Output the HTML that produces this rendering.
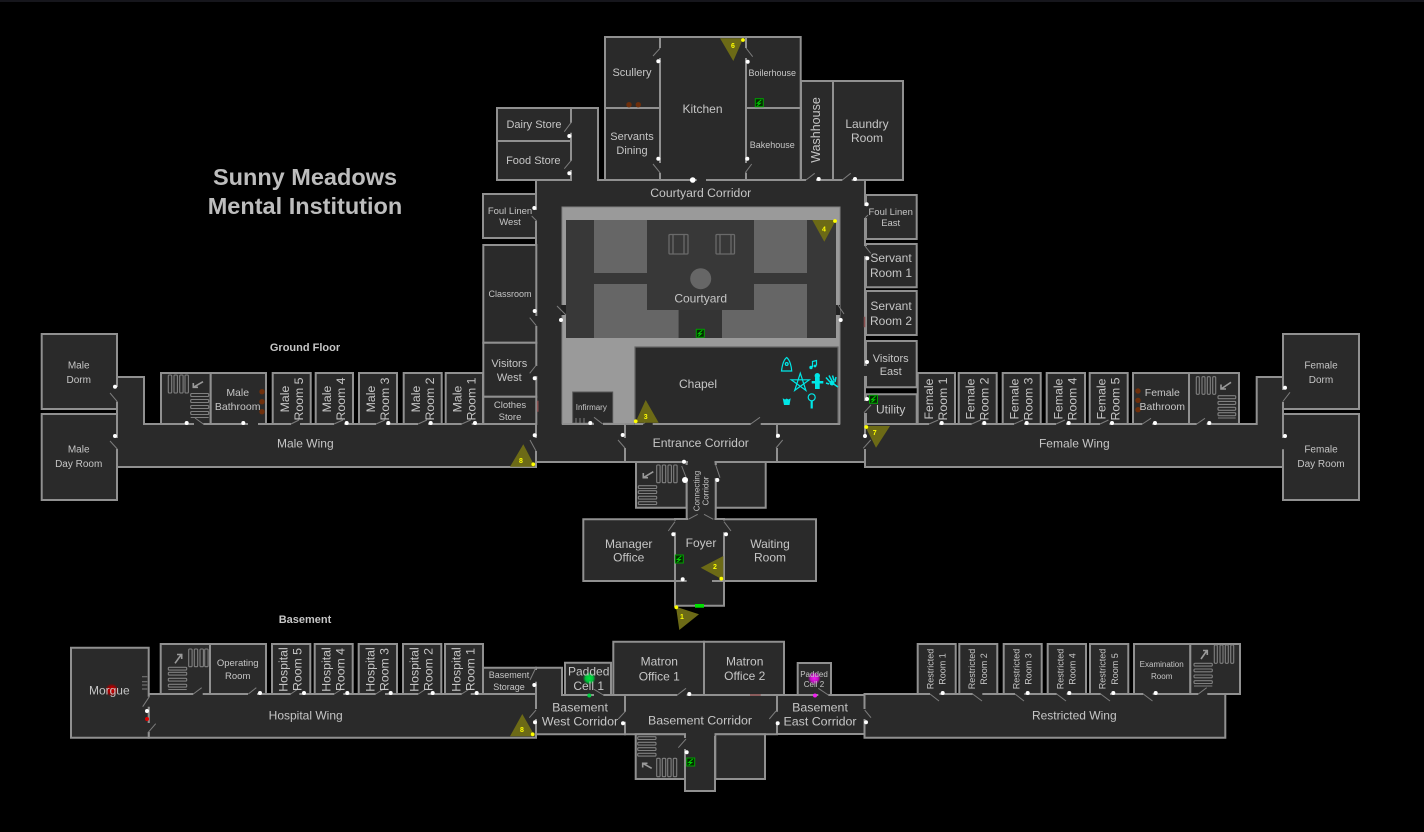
<!DOCTYPE html>
<html><head><meta charset="utf-8"><title>Sunny Meadows</title>
<style>
html,body{margin:0;padding:0;background:#000;width:1424px;height:832px;overflow:hidden}
svg{display:block}
text{font-family:"Liberation Sans",sans-serif;fill:#c6c6c6;text-anchor:middle}
.r path{fill:#2a2a2a;stroke:#909090;stroke-width:2}
.t{fill:none;stroke:#808080;stroke-width:1.1}
.g{fill:none;stroke:#2a2a2a;stroke-width:3.4}
.s{fill:none;stroke:#7c7c7c;stroke-width:1}
.d{fill:none;stroke:#fff;stroke-width:4;stroke-linecap:round}
.w{fill:none;stroke:#909090;stroke-width:2}
.c polygon{fill:#6c6a16}
.y{fill:#ff0}
.n{fill:#ff0;font-size:7px;font-weight:bold}
.b{fill:#6e2e0a}
.cy{fill:none;stroke:#00e6e6;stroke-width:1.2}
.cf{fill:#00e6e6}
</style></head><body>
<svg width="1424" height="832" viewBox="0 0 1424 832" xmlns="http://www.w3.org/2000/svg">
<defs>
<radialGradient id="gr"><stop offset="0" stop-color="#d00000"/><stop offset=".6" stop-color="#a00000"/><stop offset="1" stop-color="#a00000" stop-opacity="0"/></radialGradient>
<radialGradient id="gg"><stop offset="0" stop-color="#00e040"/><stop offset=".6" stop-color="#00c038"/><stop offset="1" stop-color="#00a030" stop-opacity="0"/></radialGradient>
<radialGradient id="gm"><stop offset="0" stop-color="#f020f0"/><stop offset=".6" stop-color="#c010c0"/><stop offset="1" stop-color="#a010a0" stop-opacity="0"/></radialGradient>
<g id="ex"><rect x="-4" y="-4" width="8" height="8" stroke="#00a000" stroke-width="1" style="fill:#032a00"/><path d="M2-3-2 .5H1L-2 3" fill="none" stroke="#00d000" stroke-width="1"/></g>
</defs>
<rect width="1424" height="832" fill="#000"/>
<rect width="1424" height="2" fill="#16161c"/>

<g class="r">
<path d="M117 377H144V424H536V467H117Z"/>
<path d="M865 424H1256.7V377H1283V467H865Z"/>
<path d="M571 108H598V180H571Z"/>
<path d="M536 180H865V462H536Z"/>
<path d="M605 37H660V108H605Z"/><path d="M605 108H660V180H605Z"/>
<path d="M660 37H746V180H660Z"/>
<path d="M746 37H800.7V108H746Z"/><path d="M746 108H800.7V180H746Z"/>
<path d="M801 81H833V180H801Z"/><path d="M833 81H903V180H833Z"/>
<path d="M497 108H571V141H497Z"/><path d="M497 141H571V180H497Z"/>
<path d="M483 194H536V238H483Z"/>
<path d="M483.3 245H536.3V342.7H483.3Z"/>
<path d="M483.3 342.7H536.3V396.7H483.3Z"/>
<path d="M483.3 396.7H536.3V424H483.3Z"/>
<path d="M866 195H916.7V239H866Z"/>
<path d="M866 244H916.7V287.3H866Z"/>
<path d="M866 291H916.7V335H866Z"/>
<path d="M866 341H916.7V387.3H866Z"/>
<path d="M866 394.3H916.7V424H866Z"/>
<path d="M41.7 334H117V409H41.7Z"/><path d="M41.7 414H117V500H41.7Z"/>
<path d="M161 373H210.7V424H161Z"/><path d="M210.7 373H266V424H210.7Z"/>
<path d="M272.7 373H310.7V424H272.7Z"/><path d="M315.7 373H353V424H315.7Z"/>
<path d="M359 373H397V424H359Z"/><path d="M403.7 373H441.7V424H403.7Z"/>
<path d="M445.7 373H483V424H445.7Z"/>
<path d="M917.7 373H955V424H917.7Z"/><path d="M958.7 373H996.7V424H958.7Z"/>
<path d="M1002.7 373H1040.7V424H1002.7Z"/><path d="M1046.7 373H1085V424H1046.7Z"/>
<path d="M1089.7 373H1127.7V424H1089.7Z"/><path d="M1133 373H1189V424H1133Z"/>
<path d="M1189 373H1239V424H1189Z"/>
<path d="M1283 334H1359V409H1283Z"/><path d="M1283 414H1359V500H1283Z"/>
<path d="M625 424H777V462H625Z"/>
<path d="M636 462H686.7V507.7H636Z"/><path d="M715.7 462H765.7V507.7H715.7Z"/>
<path d="M686.7 462H715.7V519H686.7Z"/>
<path d="M675 519H724V605.7H675Z"/>
<path d="M583.3 519.3H675V581H583.3Z"/><path d="M724 519.3H816V581H724Z"/>
<path d="M148.7 694H536V737.7H148.7Z"/>
<path d="M71 647.7H148.7V737.7H71Z"/>
<path d="M160.7 644H210V694H160.7Z"/><path d="M210 644H266V694H210Z"/>
<path d="M272 644H310.3V694H272Z"/><path d="M314.7 644H352.7V694H314.7Z"/>
<path d="M358.7 644H397V694H358.7Z"/><path d="M403 644H441.3V694H403Z"/>
<path d="M445 644H483V694H445Z"/>
<path d="M536 667.7H562V695H625V734.3H536Z"/>
<path d="M483 667.7H536V694H483Z"/>
<path d="M565 662.7H611V695H565Z"/>
<path d="M613.3 641.7H704V695H613.3Z"/><path d="M704 641.7H784V695H704Z"/>
<path d="M625 695H777V734.3H715V791H685V734.3H625Z"/>
<path d="M635.7 734.3H685V779H635.7Z"/><path d="M715.3 734.3H765V779H715.3Z"/>
<path d="M797.7 663H831V695H797.7Z"/>
<path d="M777 695H864.5V734H777Z"/>
<path d="M864.5 694H1225.3V737.7H864.5Z"/>
<path d="M917.7 644H955.7V694H917.7Z"/><path d="M959.3 644H997.3V694H959.3Z"/>
<path d="M1003.7 644H1041.7V694H1003.7Z"/><path d="M1047.7 644H1086V694H1047.7Z"/>
<path d="M1090 644H1128.3V694H1090Z"/><path d="M1134 644H1190.3V694H1134Z"/>
<path d="M1190.3 644H1240V694H1190.3Z"/>
</g>

<rect x="562" y="207" width="278" height="217" fill="#9a9a9a" stroke="#808080" stroke-width="1"/>
<rect x="566" y="220" width="270" height="118" fill="#383838"/>
<rect x="594" y="220" width="53" height="53" fill="#666"/>
<rect x="754" y="220" width="53" height="53" fill="#666"/>
<path d="M594 284H647V310H678.7V338H594Z" fill="#666"/>
<path d="M754 284H807V338H722V310H754Z" fill="#666"/>
<rect x="678.7" y="310" width="43.3" height="28" fill="#343434"/>
<circle cx="700.7" cy="278.7" r="10.5" fill="#666"/>
<g fill="none" stroke="#6a6a6a" stroke-width="1.3"><rect x="669" y="234.5" width="19" height="19.5" rx="1"/><path d="M673 234.5V254M684 234.5V254"/><rect x="716" y="234.5" width="18.5" height="19.5" rx="1"/><path d="M720 234.5V254M731 234.5V254"/></g>
<rect x="635" y="347" width="203" height="77" fill="#2a2a2a" stroke="#666" stroke-width="1.2"/>
<rect x="572.7" y="392" width="40" height="31" fill="#2a2a2a" stroke="#555" stroke-width="1"/>
<path d="M562 424H625M777 424H840M635 424H777" class="w"/>
<path d="M576 418V423M580 418V423M584 418V423" class="s"/>
<rect x="561" y="305" width="5" height="10" fill="#222"/><rect x="836" y="305" width="4" height="10" fill="#222"/>

<g class="t">
<rect x="168.3" y="375" width="3.4" height="18" rx="1"/><rect x="174" y="375" width="3.4" height="18" rx="1"/><rect x="179.7" y="375" width="3.4" height="18" rx="1"/><rect x="185" y="375" width="3.4" height="18" rx="1"/>
<rect x="190.7" y="393.5" width="18" height="3" rx="1"/><rect x="190.7" y="399.5" width="18" height="3" rx="1"/><rect x="190.7" y="405.5" width="18" height="3" rx="1"/><rect x="190.7" y="411.5" width="18" height="3" rx="1"/><path d="M190.7 417.5H208.7"/>
<rect x="1196.3" y="376.7" width="3" height="17.6" rx="1"/><rect x="1202" y="376.7" width="3" height="17.6" rx="1"/><rect x="1207.3" y="376.7" width="3" height="17.6" rx="1"/><rect x="1212.7" y="376.7" width="3" height="17.6" rx="1"/>
<rect x="1218" y="395.7" width="17.7" height="3" rx="1"/><rect x="1218" y="401.4" width="17.7" height="3" rx="1"/><rect x="1218" y="407.3" width="17.7" height="3" rx="1"/><rect x="1218" y="412.7" width="17.7" height="3" rx="1"/><path d="M1218 418H1235.7"/>
<rect x="656.7" y="465" width="3.4" height="17.7" rx="1"/><rect x="662.3" y="465" width="3.4" height="17.7" rx="1"/><rect x="668" y="465" width="3.4" height="17.7" rx="1"/><rect x="673.7" y="465" width="3.4" height="17.7" rx="1"/>
<rect x="638.3" y="485.7" width="18.4" height="2.8" rx="1"/><rect x="638.3" y="490.7" width="18.4" height="2.8" rx="1"/><rect x="638.3" y="496.3" width="18.4" height="2.8" rx="1"/><rect x="638.3" y="501.7" width="18.4" height="2.8" rx="1"/>
<rect x="188.7" y="649" width="3.4" height="17.7" rx="1"/><rect x="194.3" y="649" width="3.4" height="17.7" rx="1"/><rect x="200" y="649" width="3.4" height="17.7" rx="1"/><rect x="204.7" y="649" width="3.4" height="17.7" rx="1"/>
<rect x="168.3" y="667.3" width="18.4" height="2.8" rx="1"/><rect x="168.3" y="672.3" width="18.4" height="2.8" rx="1"/><rect x="168.3" y="678.3" width="18.4" height="2.8" rx="1"/><rect x="168.3" y="684.3" width="18.4" height="2.8" rx="1"/><path d="M168.3 689.5H186.7"/>
<rect x="1214.3" y="645" width="3" height="18.3" rx="1"/><rect x="1220" y="645" width="3" height="18.3" rx="1"/><rect x="1225.3" y="645" width="3" height="18.3" rx="1"/><rect x="1230.7" y="645" width="3" height="18.3" rx="1"/>
<rect x="1194" y="663.3" width="18.3" height="2.8" rx="1"/><rect x="1194" y="669" width="18.3" height="2.8" rx="1"/><rect x="1194" y="675" width="18.3" height="2.8" rx="1"/><rect x="1194" y="680.7" width="18.3" height="2.8" rx="1"/><path d="M1194 686H1212.3"/>
<rect x="637.7" y="736.7" width="18.3" height="2.8" rx="1"/><rect x="637.7" y="742.3" width="18.3" height="2.8" rx="1"/><rect x="637.7" y="747.7" width="18.3" height="2.8" rx="1"/><rect x="637.7" y="753.3" width="18.3" height="2.8" rx="1"/>
<rect x="656.7" y="758.3" width="3.4" height="18.4" rx="1"/><rect x="662.3" y="758.3" width="3.4" height="18.4" rx="1"/><rect x="667.7" y="758.3" width="3.4" height="18.4" rx="1"/><rect x="673.3" y="758.3" width="3.4" height="18.4" rx="1"/>
</g>
<g fill="none" stroke="#9a9a9a" stroke-width="1.6">
<path d="M203 381.7 193.3 387.3M193.3 383V387.3H198"/>
<path d="M1231 382.3 1221 389M1221 384.5V389H1226"/>
<path d="M653.3 471.7 643.3 477.7M643.3 473V477.7H648"/>
<path d="M175 663.3 181.7 654M177 654.5H181.7V659"/>
<path d="M1201 659 1207.3 650M1203 650.5H1207.3V655"/>
<path d="M651.7 768.3 642.7 763.3M642.7 767.5V763.3H647.5"/>
</g>

<path class="g" d="M194 424H203.3M248 424H258M291 424H300M334 424H344.3M376 424H386M418 424H428M461.7 424H471.7
M929 424H939M971.7 424H981.7M1014 424H1024M1056 424H1066M1100 424H1109.3M1142.3 424H1152.3M1196.7 424H1206.7
M117 387V401.7M117 438V449M536 438V451M536.3 366V376M536.3 316V326M536.3 210V221M865.5 206V218M865.5 246V256M865.5 366V376M865.5 401V413M865.5 438V449
M1283 390V401.7M1283 438V449.3
M696.7 180H706M806 180H816M842.3 180H851.7M572 180H597
M660 48V58M746 48V58M660 163V172.7M746 163V172.7M571 122.7V132.7M571 160.7V170
M625 438V448M777 438V448M688 462H714.5M686.7 465V478M715.7 465V478M688 519H714.5M675 520.5V532.3M724 520.5V532.3
M193.3 694H202.7M248 694H257M290.7 694H299.3M334.3 694H343.3M375.7 694H385M418.3 694H427.7M461.7 694H470.7
M536 670V681.7M536 709V719M594 695H603.3M677.3 695H686.7M818.3 695H828.3M625 711.7V721.7M777 711.7V721.7M864.5 709V719
M148.7 696.7V706.7M148.7 723V732
M686 734.3H714.5M685 738V749
M930 694H939.3M972.7 694H982.3M1015 694H1024.3M1056.7 694H1066.7M1100.7 694H1110M1143.3 694H1152.7M1198.3 694H1207.3
M643 424H652.7M750.7 424H760.7M594 424H603"/>
<path class="g" d="M675 581H675"/>
<path class="w" d="M675 581H686.7M712 581H724"/>
<path d="M537.7 400.7V411.7M864.5 316.7V327.3" stroke="#8a5050" stroke-width="1.6" fill="none"/>
<path d="M750 695H760.7" stroke="#8a5050" stroke-width="1.6" fill="none"/>

<path class="s" d="M203.3 424 195 418M291 424 299 420M334 424 343 420M376 424 385 420M418 424 427 420M461.7 424 470.7 420
M929 424 938.3 420M971.7 424 980.7 420M1014 424 1023 420M1056 424 1065 420M1100 424 1108.5 420M1142.3 424 1151 418.3M1196.7 424 1205 418.3
M117.3 401.7 110 393M117.3 449 110 441M536 451 530 440M536.3 365 529.7 373.3M536.3 325.7 529.7 317.7M536.7 221 531.7 216
M865 218 868 215M865 246 870.7 253.3M864 412.7 871 405M863.3 448.3 870.7 440M1283.3 401 1290 392.3
M806 180 814.7 173.3M842.3 180 850.7 173.3M660 48.3 653 56M746 48 752.7 56.7M660 172.7 653 164M745.3 172.7 751.7 164M571 122.7 564.3 131.7M571 160.7 564.3 168.7
M566 315 557 306M838 305 844 314M643 424 651.3 417.3M750.7 424 760 417.3M602.7 424 594 417.3
M625 448 618 440M776 448 782.7 440M681.7 466 686.7 479M715.7 465 720 477.7M697.7 514.3 688.3 519.3M704 514.3 713.3 519.3M675 521.7 668.3 531M724 521.7 731 531
M193.3 694 201.7 687.7M248.3 694 256.3 687.7M290.7 694 298 689M334.3 694 342 689M375.7 694 383.5 689M418.3 694 426 689M461.7 694 469.5 689
M535.7 668 530 680M536 710 529.3 717.7M149.3 696.7 142.7 706.7M148.3 732.3 155.7 723.7
M603.3 695 594 689.3M677.3 695 686 688.3M818.3 688.3 828.3 695M625 711.7 618.3 719M776 711 769.3 719M864.7 710 871 717.7M686 739 678.3 747.7
M930 694 939 701M972.7 694 982 701M1015 694 1024 701M1056.7 694 1066 701M1100.7 694 1110 701M1143.3 694 1152.5 701M1198.3 694 1206.7 687.7"/>

<path class="s" d="M142 676.7H147.3M142 681.7H147.3M142 685H147.3M142 689H147.3"/>
<g class="b"><circle cx="629" cy="104.7" r="2.7"/><circle cx="638.3" cy="104.7" r="2.7"/><circle cx="262" cy="391.7" r="2.7"/><circle cx="262" cy="401.7" r="2.7"/><circle cx="262" cy="411.7" r="2.7"/><circle cx="1138" cy="391" r="2.7"/><circle cx="1138" cy="400.3" r="2.7"/><circle cx="1138" cy="409.7" r="2.7"/></g>
<circle cx="111.7" cy="690" r="6.5" fill="url(#gr)"/>
<circle cx="589.3" cy="678.3" r="6.5" fill="url(#gg)"/>
<circle cx="814.3" cy="678.3" r="6.5" fill="url(#gm)"/>
<circle cx="589.3" cy="695.5" r="2" fill="#00d040"/>
<circle cx="815" cy="695.5" r="2" fill="#f020f0"/>
<rect x="695" y="604" width="9" height="3.7" fill="#00e000"/>
<circle cx="147" cy="719" r="2" fill="#e00000"/>

<use href="#ex" x="759.3" y="102.7"/><use href="#ex" x="700.3" y="333.3"/><use href="#ex" x="679.3" y="559"/><use href="#ex" x="873.5" y="399.3"/><use href="#ex" x="690.7" y="762"/>

<path class="d" d="M186.7 423h0M243.3 423h0M346.7 423h0M388.3 423h0M430.7 423h0M475 423h0
M941.7 423h0M984.3 423h0M1026.7 423h0M1068.7 423h0M1112 423h0M1155 423h0M1209.3 423h0
M115 386.7h0M115 436h0M534.7 435.3h0M534.7 378.3h0M534.7 311h0M534.3 208h0M866.7 204.3h0M867.3 258.3h0M867 362h0M867 399h0M865 436h0M1285 387.7h0M1285 436h0
M818.7 179h0M855 179h0M658.3 61.3h0M747.7 61.7h0M658.3 158.7h0M747.3 158.7h0M569.3 136h0M569.3 173.3h0
M561 320h0M840.7 320h0M590.3 423h0M622.7 435h0M778 435.7h0M684 461.7h0M717.3 480h0M673.3 534.3h0M726 534.3h0M682.7 579.3h0
M260 693h0M304 693h0M347.3 693h0M390.7 693h0M432.7 693h0M476.7 693h0M534.3 685h0M535 722.3h0M147 711h0
M689.3 694h0M623 723.3h0M777.7 723.3h0M866 722.3h0M686.7 752.3h0
M942.7 693h0M1027.7 693h0M1069.3 693h0M1113.3 693h0M1155.7 693h0"/>
<circle cx="692.7" cy="180" r="2.8" fill="#fff"/><circle cx="685" cy="480" r="3" fill="#fff"/>

<g class="c">
<polygon points="720,38.3 743.3,38.3 733.3,61"/>
<polygon points="812.3,220 836,220 824.3,241.7"/>
<polygon points="635.3,422.7 658.7,422.7 645.7,400"/>
<polygon points="510,466.7 535,466.7 523.3,444.3"/>
<polygon points="865,426 890,426 876,447.7"/>
<polygon points="723.3,556 723.3,580 700.7,567.7"/>
<polygon points="676,606.7 699,614.3 679.3,630"/>
<polygon points="510,736.3 535,736.3 522.3,714"/>
</g>
<g class="y">
<circle cx="743" cy="40" r="1.9"/><circle cx="835" cy="221" r="1.9"/><circle cx="635.7" cy="421.3" r="1.9"/><circle cx="533.3" cy="464.3" r="1.9"/><circle cx="866.3" cy="427" r="1.9"/><circle cx="721.3" cy="578.7" r="1.9"/><circle cx="676.3" cy="607.3" r="1.9"/><circle cx="532.7" cy="734.3" r="1.9"/>
</g>
<text class="n" x="733" y="48">6</text><text class="n" x="824" y="231.5">4</text><text class="n" x="645.7" y="419">3</text><text class="n" x="521" y="463">8</text><text class="n" x="874.7" y="435">7</text><text class="n" x="715" y="569">2</text><text class="n" x="682" y="619">1</text><text class="n" x="522" y="732">8</text>

<path class="cy" d="M786.7 357.5C783 360 782 367 781.5 371H791.7C791.5 367 790 360 786.7 357.5Z"/><circle class="cy" cx="786.7" cy="364" r="1.4"/>
<path d="M812.5 367V361.5L816.5 360.5V365.5" fill="none" stroke="#00e6e6" stroke-width="1.2"/><circle class="cf" cx="811" cy="367.5" r="1.7"/><circle class="cf" cx="815" cy="366" r="1.4"/>
<path class="cy" d="M800.3 373.2 805.9 390.4 791.3 379.8H809.3L794.7 390.4Z" stroke-width="1.4"/>
<circle class="cf" cx="817.3" cy="375.7" r="2.7"/><path class="cf" d="M815 377.5H819.7V381H823.3V383.5H819.7V389H815V383.5H811.7V381H815Z"/>
<path d="M833 383.5 838 387M830 382 826 377.5M832 381 829 375.5M834 380.5 832.5 375.5M835 382 836 377M829 384 826 383" stroke="#00e6e6" stroke-width="1.5" fill="none"/><circle class="cf" cx="832" cy="383" r="2.5"/>
<polygon class="cf" points="782.7,398.3 785,399.5 786.7,398.5 788.5,399.5 790.7,398.3 789.5,405 784,405"/>
<circle class="cy" cx="811.7" cy="397.3" r="3.5" stroke-width="1.3"/><path d="M811.7 401V408.5" stroke="#00e6e6" stroke-width="2.2"/>

<text x="305" y="185" font-size="23.5" font-weight="bold" style="fill:#bdbdbd">Sunny Meadows</text>
<text x="305" y="214" font-size="23.5" font-weight="bold" style="fill:#bdbdbd">Mental Institution</text>
<text x="305" y="351" font-size="11" font-weight="bold">Ground Floor</text>
<text x="305" y="623" font-size="11" font-weight="bold">Basement</text>

<g font-size="11">
<text x="632" y="76">Scullery</text>
<text x="632" y="140">Servants</text><text x="632" y="154">Dining</text>
<text x="534" y="128">Dairy Store</text><text x="533.3" y="164">Food Store</text>
<text x="509.3" y="367">Visitors</text><text x="509.3" y="381">West</text>
<text x="890.7" y="362">Visitors</text><text x="890.7" y="375">East</text>
</g>
<g font-size="12">
<text x="702.5" y="113">Kitchen</text>
<text x="867" y="128">Laundry</text><text x="867" y="142">Room</text>
<text x="891" y="262">Servant</text><text x="891" y="277">Room 1</text>
<text x="891" y="310">Servant</text><text x="891" y="325">Room 2</text>
<text x="890.7" y="413.5">Utility</text>
<text x="700.7" y="302.5">Courtyard</text>
<text x="698" y="388">Chapel</text>
<text x="305.3" y="447.5">Male Wing</text>
<text x="1074.3" y="447.5">Female Wing</text>
<text x="628.7" y="548">Manager</text><text x="628.7" y="561.5">Office</text>
<text x="770" y="548">Waiting</text><text x="770" y="561.5">Room</text>
<text x="701" y="547">Foyer</text>
<text x="109.3" y="694.5">Morgue</text>
<text x="588.7" y="675.5">Padded</text><text x="588.7" y="690">Cell 1</text>
<text x="659.3" y="665.5">Matron</text><text x="659.3" y="680.5">Office 1</text>
<text x="744.7" y="665.5">Matron</text><text x="744.7" y="680">Office 2</text>
<text x="305.7" y="719.5">Hospital Wing</text>
<text x="1074.3" y="719.5">Restricted Wing</text>
</g>
<g font-size="12.2">
<text x="700.7" y="197">Courtyard Corridor</text>
<text x="700.7" y="447">Entrance Corridor</text>
</g>
<text x="700" y="724.5" font-size="12.4">Basement Corridor</text>
<g font-size="12.4">
<text x="580" y="711.5">Basement</text><text x="580" y="725.5">West Corridor</text>
<text x="820" y="711.5">Basement</text><text x="820" y="725.5">East Corridor</text>
</g>
<g font-size="9">
<text x="772.3" y="76">Boilerhouse</text>
<text x="772.3" y="148">Bakehouse</text>
<text x="510" y="297">Classroom</text>
<text x="509" y="678">Basement</text><text x="509" y="690">Storage</text>
</g>
<g font-size="9.5">
<text x="510" y="214">Foul Linen</text><text x="510" y="225">West</text>
<text x="890.7" y="215">Foul Linen</text><text x="890.7" y="226">East</text>
<text x="510" y="408">Clothes</text><text x="510" y="420">Store</text>
<text x="237.7" y="666">Operating</text><text x="237.7" y="679">Room</text>
</g>
<g font-size="10">
<text x="78.7" y="368.5">Male</text><text x="78.7" y="383">Dorm</text>
<text x="78.7" y="452.5">Male</text><text x="78.7" y="467">Day Room</text>
<text x="1321" y="368.5">Female</text><text x="1321" y="383">Dorm</text>
<text x="1321" y="452.5">Female</text><text x="1321" y="467">Day Room</text>
</g>
<g font-size="10.5">
<text x="237.7" y="396">Male</text><text x="237.7" y="410">Bathroom</text>
<text x="1162.3" y="396">Female</text><text x="1162.3" y="410">Bathroom</text>
</g>
<g font-size="8">
<text x="591.3" y="410">Infirmary</text>
<text x="1161.7" y="667">Examination</text><text x="1161.7" y="679">Room</text>
<text x="814" y="677">Padded</text><text x="814" y="687">Cell 2</text>
<text transform="translate(699.3 491) rotate(-90)">Connecting</text>
<text transform="translate(708.3 491) rotate(-90)">Corridor</text>
</g>
<text transform="translate(820 130) rotate(-90)" font-size="12.5">Washhouse</text>

<g font-size="12.3">
<text transform="translate(289 399) rotate(-90)">Male</text><text transform="translate(303 399) rotate(-90)">Room 5</text>
<text transform="translate(331 399) rotate(-90)">Male</text><text transform="translate(345 399) rotate(-90)">Room 4</text>
<text transform="translate(375 399) rotate(-90)">Male</text><text transform="translate(389 399) rotate(-90)">Room 3</text>
<text transform="translate(420 399) rotate(-90)">Male</text><text transform="translate(434 399) rotate(-90)">Room 2</text>
<text transform="translate(461.5 399) rotate(-90)">Male</text><text transform="translate(475.5 399) rotate(-90)">Room 1</text>
<text transform="translate(933 399) rotate(-90)">Female</text><text transform="translate(947 399) rotate(-90)">Room 1</text>
<text transform="translate(974.5 399) rotate(-90)">Female</text><text transform="translate(988.5 399) rotate(-90)">Room 2</text>
<text transform="translate(1018.5 399) rotate(-90)">Female</text><text transform="translate(1032.5 399) rotate(-90)">Room 3</text>
<text transform="translate(1062.5 399) rotate(-90)">Female</text><text transform="translate(1076.5 399) rotate(-90)">Room 4</text>
<text transform="translate(1105.5 399) rotate(-90)">Female</text><text transform="translate(1119.5 399) rotate(-90)">Room 5</text>
<text transform="translate(287.7 669.5) rotate(-90)">Hospital</text><text transform="translate(301.7 669.5) rotate(-90)">Room 5</text>
<text transform="translate(330.5 669.5) rotate(-90)">Hospital</text><text transform="translate(344.5 669.5) rotate(-90)">Room 4</text>
<text transform="translate(374.5 669.5) rotate(-90)">Hospital</text><text transform="translate(388.5 669.5) rotate(-90)">Room 3</text>
<text transform="translate(418.7 669.5) rotate(-90)">Hospital</text><text transform="translate(432.7 669.5) rotate(-90)">Room 2</text>
<text transform="translate(460.7 669.5) rotate(-90)">Hospital</text><text transform="translate(474.7 669.5) rotate(-90)">Room 1</text>
</g>
<g font-size="9">
<text transform="translate(933.3 669) rotate(-90)">Restricted</text><text transform="translate(945.5 669) rotate(-90)">Room 1</text>
<text transform="translate(975 669) rotate(-90)">Restricted</text><text transform="translate(987.2 669) rotate(-90)">Room 2</text>
<text transform="translate(1019.3 669) rotate(-90)">Restricted</text><text transform="translate(1031.5 669) rotate(-90)">Room 3</text>
<text transform="translate(1063.3 669) rotate(-90)">Restricted</text><text transform="translate(1075.5 669) rotate(-90)">Room 4</text>
<text transform="translate(1105.7 669) rotate(-90)">Restricted</text><text transform="translate(1117.9 669) rotate(-90)">Room 5</text>
</g>
</svg>
</body></html>
